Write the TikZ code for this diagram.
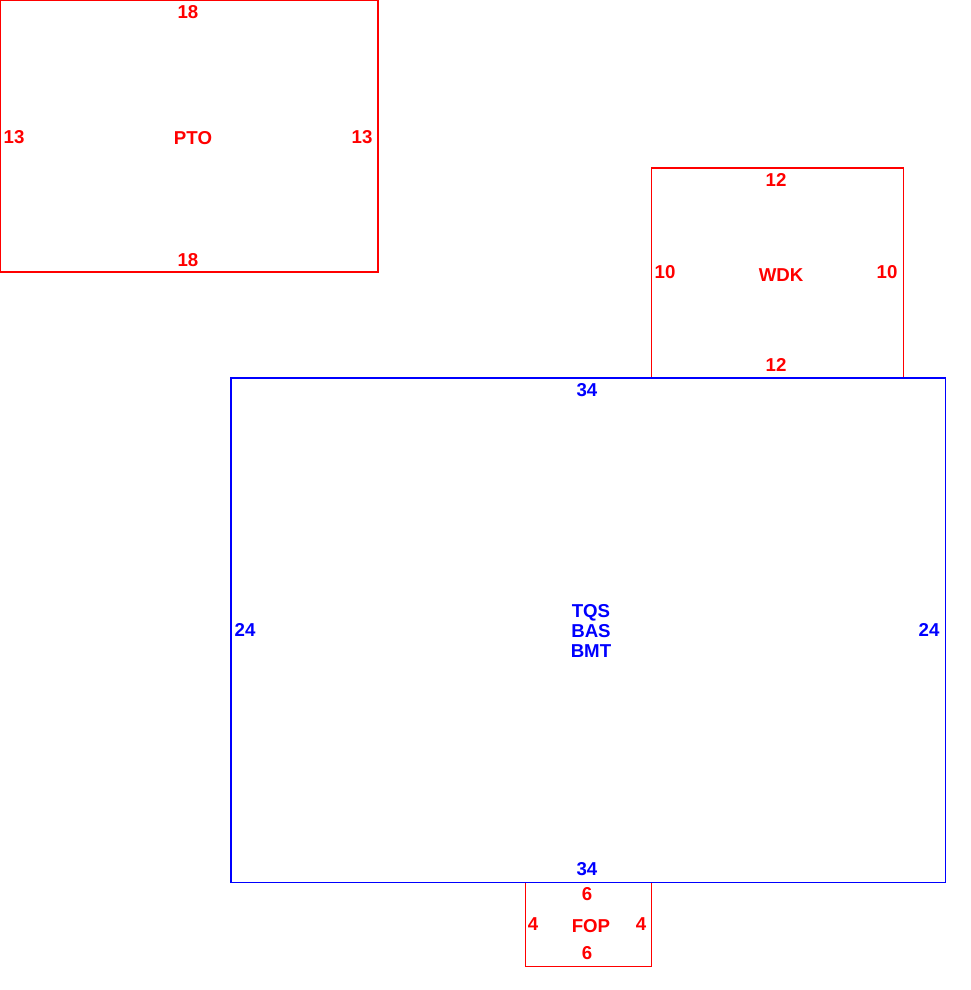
\documentclass[tikz,border=0pt]{standalone}
\usepackage{fontspec}
\setmainfont{Liberation Sans}
\definecolor{sketchred}{RGB}{255,0,0}
\definecolor{sketchblue}{RGB}{0,0,255}
\tikzset{
  Area/.style={draw, line width=0.8pt},
  Lbl/.style={font=\fontsize{14}{15}\selectfont\bfseries, inner sep=0pt, align=center},
}
\begin{document}
\begin{tikzpicture}[x=15.75pt, y=-15.75pt]
	\useasboundingbox (0,0) rectangle (46.19,47.14);
	% PTO
	\draw [Area, sketchred] (0.02,0.02) rectangle (18,12.95);
	\node (pto) at (9.19,6.57) [Lbl, sketchred] {PTO};
	\node (ptoT) at (8.95,0.57) [Lbl, sketchred] {18};
	\node (ptoB) at (8.95,12.38) [Lbl, sketchred] {18};
	\node (ptoL) at (0.67,6.52) [Lbl, sketchred] {13};
	\node (ptoR) at (17.24,6.52) [Lbl, sketchred] {13};
	% WDK
	\draw [Area, sketchred] (31,8) rectangle (43,18);
	\node (wdk) at (37.19,13.1) [Lbl, sketchred] {WDK};
	\node (wdkT) at (36.95,8.57) [Lbl, sketchred] {12};
	\node (wdkB) at (36.95,17.38) [Lbl, sketchred] {12};
	\node (wdkL) at (31.67,12.95) [Lbl, sketchred] {10};
	\node (wdkR) at (42.24,12.95) [Lbl, sketchred] {10};
	% FOP
	\draw [Area, sketchred] (25,42) rectangle (31,46);
	\node (fop) at (28.14,44.1) [Lbl, sketchred] {FOP};
	\node (fopT) at (27.95,42.57) [Lbl, sketchred] {6};
	\node (fopB) at (27.95,45.38) [Lbl, sketchred] {6};
	\node (fopL) at (25.38,44) [Lbl, sketchred] {4};
	\node (fopR) at (30.52,44) [Lbl, sketchred] {4};
	% main
	\draw [Area, sketchblue] (11,18) rectangle (45,42);
	\node (bas) at (28.14,30.05) [Lbl, sketchblue] {TQS\\BAS\\BMT};
	\node (basT) at (27.95,18.57) [Lbl, sketchblue] {34};
	\node (basB) at (27.95,41.38) [Lbl, sketchblue] {34};
	\node (basL) at (11.67,30) [Lbl, sketchblue] {24};
	\node (basR) at (44.24,30) [Lbl, sketchblue] {24};
\end{tikzpicture}
\end{document}
